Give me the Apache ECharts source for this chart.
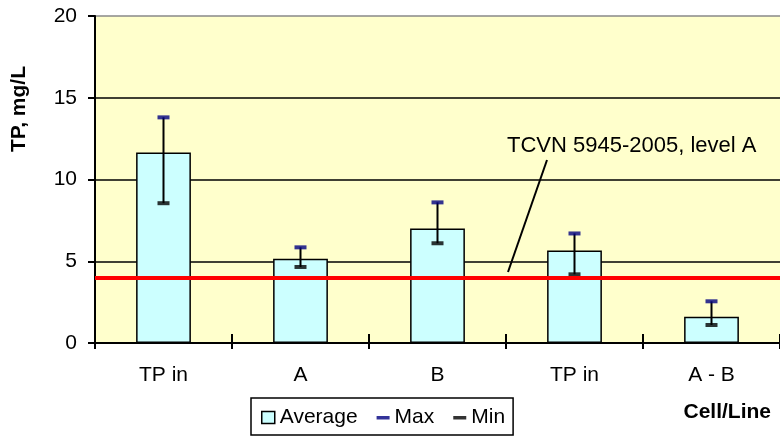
<!DOCTYPE html>
<html>
<head>
<meta charset="utf-8">
<script src="https://cdn.jsdelivr.net/npm/echarts@6/dist/echarts.min.js"></script>
<style>
  html, body { margin: 0; padding: 0; background: #fff; }
  #chart { width: 780px; height: 437px; }
</style>
</head>
<body>
<div id="chart"></div>
<script>
// values
const categories = ['TP in', 'A', 'B', 'TP in', 'A - B'];
const avgValues = [11.65, 5.15, 7.0, 5.65, 1.6];
const maxValues = [13.8, 5.85, 8.6, 6.7, 2.55];
const minValues = [8.55, 4.65, 6.1, 4.2, 1.1];
const limitValue = 4; // TCVN 5945-2005, level A

const FONT = 'Arial, "Liberation Sans", sans-serif';

const chart = echarts.init(document.getElementById('chart'));

// path icon with an invisible 13x12 frame so the dash keeps its shape in the legend
const dashIcon = 'path://M0,0 M13,12 M0,4.5h13v3.5h-13z';

const option = {
  animation: false,
  textStyle: { fontFamily: FONT, color: '#000' },
  grid: {
    left: 95, top: 16, bottom: 94, width: 690,
    show: true, backgroundColor: '#FFFFCC', borderWidth: 0
  },
  xAxis: [
    {
      type: 'category',
      data: categories,
      axisLine: { lineStyle: { color: '#000', width: 2 } },
      axisTick: { show: true, length: 6, lineStyle: { color: '#000', width: 2 } },
      axisLabel: { color: '#000', fontSize: 21, fontFamily: FONT, margin: 22 }
    },
    {
      type: 'category',
      data: categories,
      position: 'bottom',
      axisLine: { show: false },
      axisTick: { show: true, inside: true, length: 9, lineStyle: { color: '#000', width: 2 } },
      axisLabel: { show: false }
    }
  ],
  yAxis: {
    type: 'value',
    min: 0, max: 20, interval: 5,
    axisLine: { show: true, lineStyle: { color: '#000', width: 2 } },
    axisTick: { show: true, length: 7, lineStyle: { color: '#000', width: 2 } },
    axisLabel: { color: '#000', fontSize: 21, fontFamily: FONT, margin: 18 },
    splitLine: { show: true, lineStyle: { color: ['#000', '#000', '#000', '#000', '#888'], width: 1.5 } }
  },
  legend: {
    left: 251, top: 398,
    padding: [9, 8, 7, 10],
    itemGap: 19,
    itemWidth: 13, itemHeight: 12,
    borderColor: '#000', borderWidth: 1.5, borderRadius: 0,
    textStyle: { fontSize: 21, fontFamily: FONT, color: '#000' },
    data: [
      { name: 'Average', icon: 'rect', itemStyle: { color: '#CCFFFF', borderColor: '#000', borderWidth: 1.5 } },
      { name: 'Max', icon: dashIcon },
      { name: 'Min', icon: dashIcon }
    ]
  },
  series: [
    {
      name: 'Average',
      type: 'bar',
      data: avgValues,
      barWidth: '40%',
      itemStyle: { color: '#CCFFFF', borderColor: '#000', borderWidth: 1.5 },
      z: 2,
      markLine: {
        silent: true,
        symbol: 'none',
        label: { show: false },
        lineStyle: { color: '#FF0000', width: 4, type: 'solid' },
        data: [{ yAxis: limitValue }],
        z: 5
      }
    },
    {
      name: 'range',
      type: 'custom',
      data: categories.map((c, i) => [i, minValues[i], maxValues[i]]),
      encode: { x: 0, y: [1, 2] },
      z: 3,
      renderItem: function (params, api) {
        const lo = api.coord([api.value(0), api.value(1)]);
        const hi = api.coord([api.value(0), api.value(2)]);
        return {
          type: 'line',
          shape: { x1: lo[0], y1: lo[1], x2: hi[0], y2: hi[1] },
          style: { stroke: '#000', lineWidth: 2 }
        };
      }
    },
    {
      name: 'Max',
      type: 'scatter',
      data: maxValues,
      symbol: 'rect',
      symbolSize: [12, 4],
      itemStyle: { color: '#000080' },
      z: 4
    },
    {
      name: 'Min',
      type: 'scatter',
      data: minValues,
      symbol: 'rect',
      symbolSize: [12, 4],
      itemStyle: { color: '#000' },
      z: 4
    }
  ],
  graphic: [
    {
      type: 'text',
      x: 19, y: 109,
      rotation: Math.PI / 2,
      style: {
        text: 'TP, mg/L', fill: '#000',
        font: 'bold 21px ' + FONT,
        align: 'center', verticalAlign: 'middle'
      }
    },
    {
      type: 'text',
      x: 771, y: 412,
      style: {
        text: 'Cell/Line', fill: '#000',
        font: 'bold 21px ' + FONT,
        align: 'right', verticalAlign: 'middle'
      }
    },
    {
      type: 'text',
      x: 507, y: 146,
      z: 10,
      style: {
        text: 'TCVN 5945-2005, level A', fill: '#000',
        font: '22px ' + FONT,
        align: 'left', verticalAlign: 'middle'
      }
    },
    {
      type: 'line',
      z: 10,
      shape: { x1: 547, y1: 160, x2: 508, y2: 272 },
      style: { stroke: '#000', lineWidth: 2 }
    }
  ]
};

chart.setOption(option);
</script>
</body>
</html>
